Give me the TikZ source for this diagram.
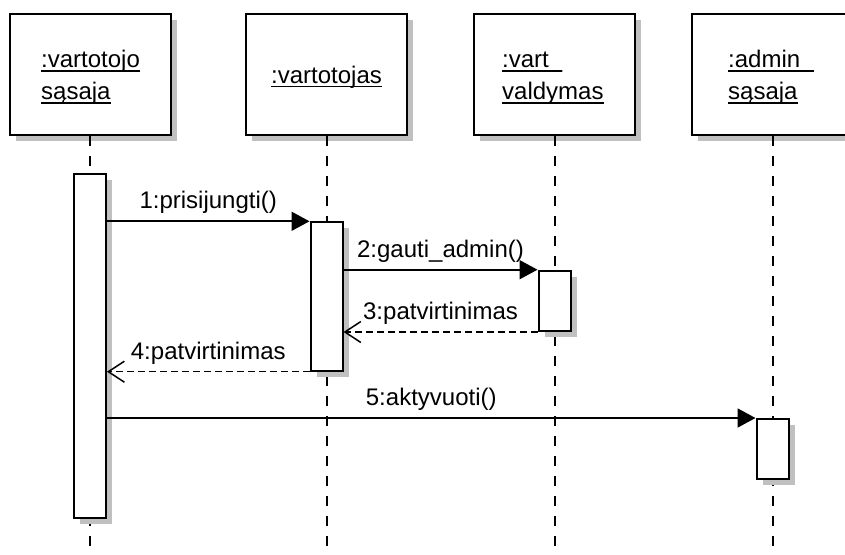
\documentclass[tikz,border=0pt]{standalone}
\usepackage{fontspec}
\setmainfont{Liberation Sans}
\usetikzlibrary{arrows.meta,shadows}
\definecolor{shadowgray}{RGB}{192,192,192}
% underlined object name
\newcommand\objname[1]{\setbox0\hbox{#1}\rlap{\rule[-4pt]{\wd0}{1.4pt}}\box0}

\begin{document}
\begin{tikzpicture}[x=1pt,y=-1pt,
  every node/.style={font=\fontsize{24}{32}\selectfont},
  boxshadow/.style={general shadow={fill=shadowgray, draw=none, shadow xshift=6pt, shadow yshift=-6pt}},
  objbox/.style={draw, line width=2pt, fill=white, minimum width=161pt,
    minimum height=121pt, inner sep=0pt, boxshadow},
  actbox/.style={draw, line width=2pt, fill=white, minimum width=32pt,
    inner sep=0pt, boxshadow},
  objtext/.style={anchor=base west, inner sep=0pt},
  lifeline/.style={line width=2pt, dash pattern=on 10pt off 10pt},
  sync/.style={line width=1.8pt, -{Triangle[length=18pt,width=19pt]}},
  reply/.style={line width=1.5pt, dash pattern=on 7pt off 4pt,
    -{Straight Barb[length=16pt,width=21pt,line width=1.5pt]}},
  msglbl/.style={anchor=base, inner sep=0pt, yshift=12.5pt}
]
\path[use as bounding box, clip] (0,0) rectangle (845,554);
\coordinate (bottom) at (0,554);

% object boxes
\node[objbox] (o1) at (90,74.5) {};
\node[objbox] (o2) at (326.5,74.5) {};
\node[objbox] (o3) at (554.5,74.5) {};
\node[objbox] (o4) at (772.5,74.5) {};

\node[objtext] (t1a) at (41,67.5) {\objname{:vartotojo}};
\node[objtext] (t1b) at (41,99.5) {\objname{sąsaja}};
\node[anchor=base, inner sep=0pt] (t2) at (326.5,83.3) {\objname{:vartotojas}};
\node[objtext] (t3a) at (502,67.5) {\objname{:vart\_}};
\node[objtext] (t3b) at (502,99.5) {\objname{valdymas}};
\node[objtext] (t4a) at (728,67.5) {\objname{:admin\_}};
\node[objtext] (t4b) at (728,99.5) {\objname{sąsaja}};

% lifelines
\foreach \o in {o1,o2,o3,o4}
  \draw[lifeline] (\o.south) -- (\o.south |- bottom);

% activations
\node[actbox, minimum height=344pt] (a1) at (90,346.3) {};
\node[actbox, minimum height=148.4pt] (a2) at (326.5,296.5) {};
\node[actbox, minimum height=60.3pt] (a3) at (554.5,300.85) {};
\node[actbox, minimum height=60pt] (a4) at (772.5,449) {};

% messages
\draw[sync] (a1.east |- a2.north) -- node[msglbl] {1:prisijungti()} (a2.north west);
\draw[sync] (a2.east |- a3.north) -- node[msglbl] {2:gauti\_admin()} (a3.north west);
\draw[reply] (a3.south west) -- node[msglbl] {3:patvirtinimas} (a2.east |- a3.south);
\draw[reply] (a2.south west) -- node[msglbl] {4:patvirtinimas} (a1.east |- a2.south);
\draw[sync] (a1.east |- a4.north) -- node[msglbl] {5:aktyvuoti()} (a4.north west);
\end{tikzpicture}
\end{document}
